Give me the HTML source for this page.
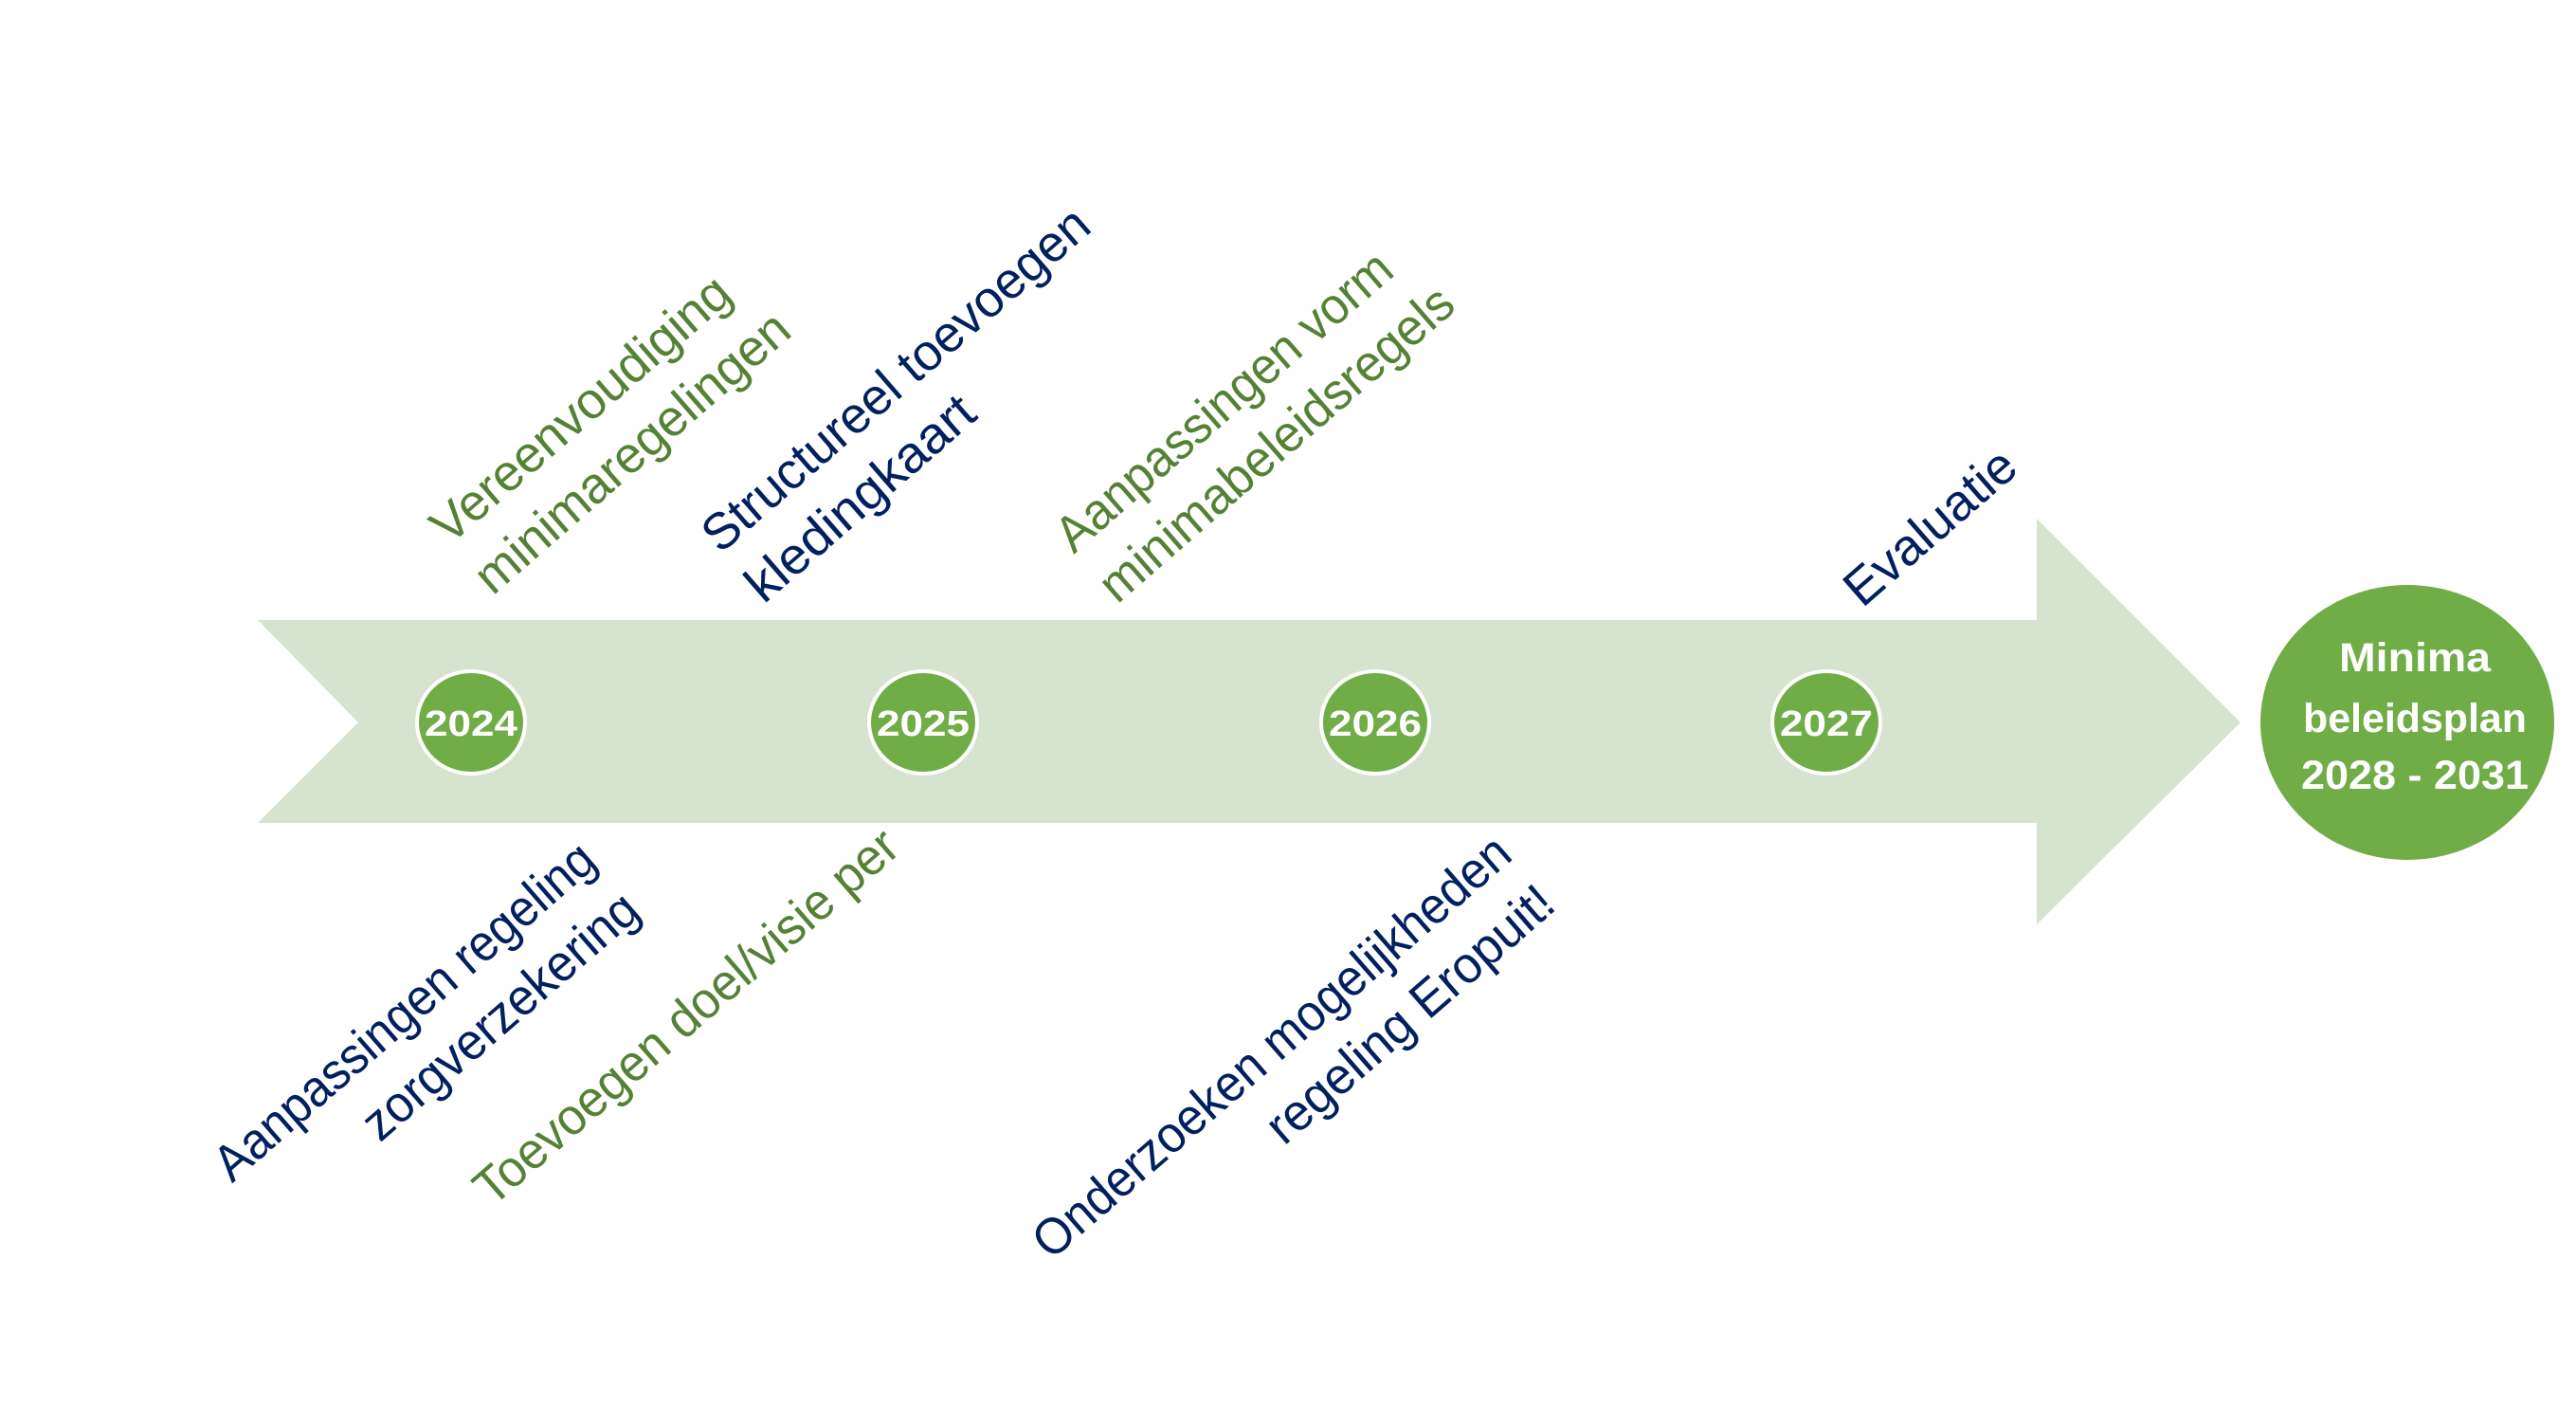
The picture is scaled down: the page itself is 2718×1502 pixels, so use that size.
<!DOCTYPE html>
<html><head><meta charset="utf-8"><style>
html,body{margin:0;padding:0;background:#fff;}
svg{display:block;}
text{font-family:"Liberation Sans",sans-serif;}
</style></head><body>
<svg width="2718" height="1502" viewBox="0 0 2718 1502" xmlns="http://www.w3.org/2000/svg">
<polygon points="272,654 2149,654 2149,547 2364,762 2149,975 2149,868 272,868 378,762" fill="#d6e3cf"/>
<g fill="#70ad47" stroke="#ffffff" stroke-width="4">
<ellipse cx="497" cy="762" rx="57" ry="54"/>
<ellipse cx="974" cy="762" rx="57" ry="54"/>
<ellipse cx="1451" cy="762" rx="57" ry="54"/>
<ellipse cx="1927" cy="762" rx="57" ry="54"/>
</g>
<g fill="#fff" font-weight="bold" font-size="38" text-anchor="middle">
<text x="497" y="776" textLength="98" lengthAdjust="spacingAndGlyphs">2024</text>
<text x="974" y="776" textLength="98" lengthAdjust="spacingAndGlyphs">2025</text>
<text x="1451" y="776" textLength="98" lengthAdjust="spacingAndGlyphs">2026</text>
<text x="1927" y="776" textLength="98" lengthAdjust="spacingAndGlyphs">2027</text>
</g>
<ellipse cx="2540" cy="762" rx="155" ry="145" fill="#70ad47"/>
<g fill="#fff" font-weight="bold" font-size="43" text-anchor="middle">
<text x="2548" y="708" textLength="160" lengthAdjust="spacingAndGlyphs">Minima</text>
<text x="2548" y="772" textLength="236" lengthAdjust="spacingAndGlyphs">beleidsplan</text>
<text x="2548" y="832" textLength="240" lengthAdjust="spacingAndGlyphs">2028 - 2031</text>
</g>
<g font-size="54">
<g transform="translate(474,576) rotate(-41)" fill="#548235">
<text x="0" y="0" textLength="399" lengthAdjust="spacingAndGlyphs">Vereenvoudiging</text>
<text x="0" y="70" textLength="421" lengthAdjust="spacingAndGlyphs">minimaregelingen</text>
</g>
<g transform="translate(760,585) rotate(-41)" fill="#002060">
<text x="0" y="0" textLength="522" lengthAdjust="spacingAndGlyphs">Structureel toevoegen</text>
<text x="0" y="70" textLength="301" lengthAdjust="spacingAndGlyphs">kledingkaart</text>
</g>
<g transform="translate(1133,585) rotate(-41)" fill="#548235">
<text x="0" y="0" textLength="451" lengthAdjust="spacingAndGlyphs">Aanpassingen vorm</text>
<text x="0" y="70" textLength="476" lengthAdjust="spacingAndGlyphs">minimabeleidsregels</text>
</g>
<g transform="translate(1965,642) rotate(-41)" fill="#002060">
<text x="0" y="0" textLength="221" lengthAdjust="spacingAndGlyphs">Evaluatie</text>
</g>
<g transform="translate(632,912) rotate(-41)" fill="#002060" text-anchor="end">
<text x="0" y="0" textLength="513" lengthAdjust="spacingAndGlyphs">Aanpassingen regeling</text>
<text x="0" y="70" textLength="367" lengthAdjust="spacingAndGlyphs">zorgverzekering</text>
</g>
<g transform="translate(952,898) rotate(-41)" fill="#548235" text-anchor="end">
<text x="0" y="0" textLength="573" lengthAdjust="spacingAndGlyphs">Toevoegen doel/visie per</text>
</g>
<g transform="translate(1598,905) rotate(-41)" fill="#002060" text-anchor="end">
<text x="0" y="0" textLength="648" lengthAdjust="spacingAndGlyphs">Onderzoeken mogelijkheden</text>
<text x="0" y="70" textLength="383" lengthAdjust="spacingAndGlyphs">regeling Eropuit!</text>
</g>
</g>
</svg>
</body></html>
